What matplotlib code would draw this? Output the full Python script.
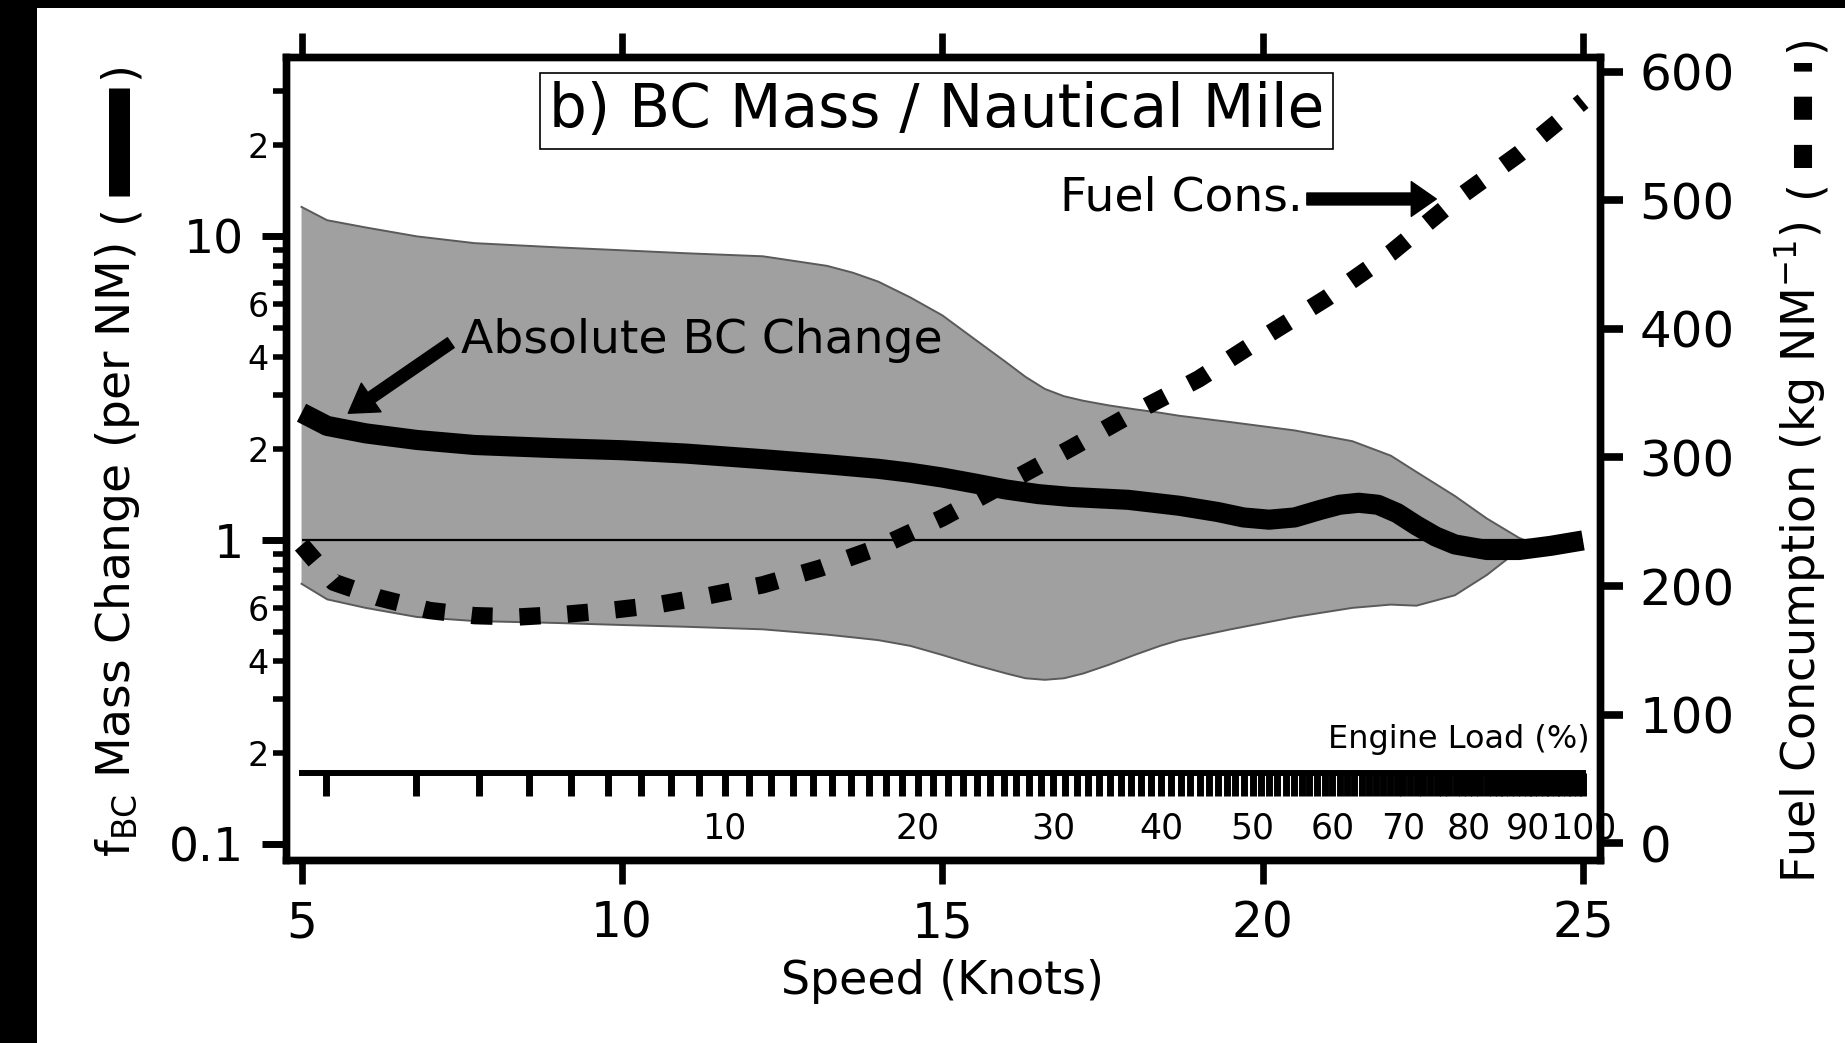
import numpy as np
import matplotlib.pyplot as plt
from matplotlib.lines import Line2D
from matplotlib.patches import Rectangle
from matplotlib.ticker import FixedLocator, FixedFormatter

plt.rcParams['font.family'] = ['DejaVu Sans']
plt.rcParams['mathtext.default'] = 'regular'

# datas
speed_bc = np.array([5.0, 5.4, 6.0, 6.8, 7.7, 9.0, 10.0, 11.0, 12.2, 13.2, 14.0, 14.5,
                     15.0, 15.5, 16.0, 16.5, 17.0, 17.9, 18.7, 19.3, 19.7, 20.1, 20.5,
                     20.9, 21.2, 21.5, 21.8, 22.1, 22.4, 22.7, 23.0, 23.5, 24.0, 24.5, 25.0])
bc_change = np.array([2.63, 2.38, 2.25, 2.14, 2.06, 2.01, 1.98, 1.93, 1.85, 1.78, 1.72, 1.67,
                      1.61, 1.54, 1.47, 1.42, 1.39, 1.36, 1.30, 1.24, 1.19, 1.17, 1.19,
                      1.26, 1.31, 1.33, 1.31, 1.23, 1.12, 1.03, 0.97, 0.93, 0.93, 0.96, 1.0])

speed_band = np.array([5.0, 5.4, 6.0, 6.8, 7.7, 9.0, 10.0, 11.0, 12.2, 13.2, 13.6, 14.0,
                       14.5, 15.0, 15.5, 16.0, 16.3, 16.6, 16.9, 17.2, 17.6, 18.0, 18.4,
                       18.7, 19.5, 20.5, 21.4, 22.0, 22.4, 23.0, 23.5, 24.0, 24.2])
band_high = np.array([12.5, 11.3, 10.7, 10.0, 9.5, 9.2, 9.0, 8.8, 8.6, 8.0, 7.6, 7.1,
                      6.3, 5.5, 4.6, 3.85, 3.45, 3.15, 2.98, 2.88, 2.78, 2.7, 2.63,
                      2.57, 2.45, 2.3, 2.12, 1.9, 1.68, 1.4, 1.18, 1.02, 0.98])
band_low = np.array([0.72, 0.64, 0.60, 0.56, 0.543, 0.535, 0.527, 0.52, 0.51, 0.49, 0.48, 0.47,
                     0.45, 0.42, 0.39, 0.365, 0.352, 0.348, 0.352, 0.365, 0.39, 0.42, 0.45,
                     0.47, 0.51, 0.56, 0.60, 0.615, 0.61, 0.66, 0.77, 0.93, 0.98])

speed_fuel = np.array([5.0, 5.5, 6.2, 7.0, 7.7, 8.4, 9.1, 9.8, 10.5, 11.3, 12.2, 13.1,
                       14.0, 15.0, 16.0, 17.0, 18.0, 19.0, 20.0, 21.0, 22.0, 23.0, 24.0, 25.0])
fuel_cons = np.array([232, 203, 191, 181, 177, 176, 178, 181, 185, 192, 201, 214,
                      230, 253, 280, 307, 335, 361, 393, 424, 459, 500, 536, 577])

x_ticks = [5, 10, 15, 20, 25]
y_major = [0.1, 1, 10]
y_major_labels = ['0.1', '1', '10']
y_minor = [0.2, 0.3, 0.4, 0.5, 0.6, 0.7, 0.8, 0.9, 2, 3, 4, 5, 6, 7, 8, 9, 20, 30]
y_minor_labels = ['2', '', '4', '', '6', '', '', '', '2', '', '4', '', '6', '', '', '', '2', '']
fuel_ticks = [0, 100, 200, 300, 400, 500, 600]
load_major = [10, 20, 30, 40, 50, 60, 70, 80, 90, 100]
load_minor = list(range(1, 101))


def spd2load(s):
    return 100.0 * (np.asarray(s) / 25.0) ** 3


def load2spd(l):
    return 25.0 * np.cbrt(np.asarray(l) / 100.0)


W, H = 1845, 1043


def fx(px):
    return px / W


def fy(py):
    return 1 - py / H


fig = plt.figure(figsize=(W / 100, H / 100), dpi=100)
ax = fig.add_axes([fx(285.5), fy(860), (1600 - 285.5) / W, (860 - 57) / H])

# band + lines
ax.fill_between(speed_band, band_low, band_high, facecolor='#a0a0a0', lw=0, zorder=1)
ax.plot(speed_band, band_high, color='#5a5a5a', lw=1.4, zorder=1.5)
ax.plot(speed_band, band_low, color='#5a5a5a', lw=1.4, zorder=1.5)
ax.hlines(1, 5, 25, color='black', lw=1.6, zorder=2)
ax.plot(speed_bc, bc_change, color='black', lw=14.5, solid_capstyle='butt',
        solid_joinstyle='round', zorder=3)

ax.set_yscale('log')
ax.set_xlim(4.75, 25.265)
ax.set_ylim(0.0889, 38.9)
ax.set_xticks(x_ticks)
ax.set_xticklabels([str(v) for v in x_ticks])
ax.yaxis.set_major_locator(FixedLocator(y_major))
ax.yaxis.set_major_formatter(FixedFormatter(y_major_labels))
ax.yaxis.set_minor_locator(FixedLocator(y_minor))
ax.yaxis.set_minor_formatter(FixedFormatter(y_minor_labels))

ax.tick_params(axis='x', which='major', direction='out', length=17.5, width=4.8,
               top=True, labeltop=False, pad=11, labelsize=35)
ax.tick_params(axis='y', which='major', direction='out', length=17.6, width=5,
               labelsize=34, pad=12)
ax.tick_params(axis='y', which='minor', direction='out', length=9.7, width=4,
               labelsize=24, pad=2.5)

# fuel consumption on right axis
ax2 = ax.twinx()
ax2.plot(speed_fuel, fuel_cons, color='black', lw=12.5, linestyle=(0, (1.21, 1.55)),
         dash_capstyle='butt')
ax2.set_ylim(-13.0, 611.4)
ax2.set_yticks(fuel_ticks)
ax2.tick_params(axis='y', direction='out', length=16.5, width=5.5, labelsize=36, pad=12)
ax.yaxis.tick_left()

for a in (ax, ax2):
    for sp in a.spines.values():
        sp.set_linewidth(5.3)

# engine load scale
sec = ax.secondary_xaxis((860 - 773) / 803, functions=(spd2load, load2spd))
sec.xaxis.set_major_locator(FixedLocator(load_major))
sec.xaxis.set_major_formatter(FixedFormatter([str(v) for v in load_major]))
sec.xaxis.set_minor_locator(FixedLocator(load_minor))
sec.tick_params(which='both', direction='out', length=16.5, width=5, pad=11, labelsize=25)
sec.spines['bottom'].set_linewidth(4.3)
sec.spines['bottom'].set_bounds(spd2load(5), 100)
ax.text(25.11, 0.222, 'Engine Load (%)', fontsize=23, ha='right', va='center')

# title box and annotations
ax.text(0.4952, 0.9328, 'b) BC Mass / Nautical Mile', transform=ax.transAxes,
        ha='center', va='center', fontsize=43,
        bbox=dict(boxstyle='square,pad=0.15', facecolor='white', edgecolor='black', lw=1.2))
ax.text(7.49, 4.53, 'Absolute BC Change', fontsize=34, ha='left', va='center')
ax.annotate('', xy=(5.73, 2.62), xytext=(7.33, 4.47),
            arrowprops=dict(facecolor='black', edgecolor='black', width=8.6,
                            headwidth=25, headlength=20, shrink=0))
ax2.text(20.63, 502, 'Fuel Cons.', fontsize=34, ha='right', va='center')
ax2.annotate('', xy=(22.71, 501), xytext=(20.69, 501),
             arrowprops=dict(facecolor='black', edgecolor='black', width=8.6,
                             headwidth=25, headlength=18, shrink=0))

# axis labels
ax.set_xlabel('Speed (Knots)', fontsize=33, va='center')
ax.xaxis.set_label_coords(0.5, (860 - 982) / 803)
ax.set_ylabel('f$_{BC}$ Mass Change (per NM)', fontsize=34, ha='left', va='center')
ax.yaxis.set_label_coords((118 - 285.5) / 1314.5, (860 - 857) / 803)
ax2.set_ylabel('Fuel Concumption (kg NM$^{-1}$)', fontsize=33.2, rotation=90,
               ha='left', va='center', rotation_mode='anchor')
ax2.yaxis.set_label_coords((1800 - 285.5) / 1314.5, (860 - 883) / 803)

# legend marks inside the axis labels
fig.add_artist(Line2D([fx(118.5)] * 2, [fy(196), fy(88)], transform=fig.transFigure,
                      color='black', lw=15.1, solid_capstyle='butt'))
fig.text(fx(119), fy(213.5), '(', rotation=90, ha='center', va='center', fontsize=33)
fig.text(fx(119), fy(70), ')', rotation=90, ha='center', va='center', fontsize=33)
fig.add_artist(Line2D([fx(1803)] * 2, [fy(168), fy(63)], transform=fig.transFigure,
                      color='black', lw=13, linestyle=(0, (1.28, 1.39)),
                      dash_capstyle='butt'))
fig.text(fx(1805), fy(188.5), '(', rotation=90, ha='center', va='center', fontsize=33)
fig.text(fx(1805), fy(43.5), ')', rotation=90, ha='center', va='center', fontsize=33)

# black scan border
fig.add_artist(Rectangle((0, fy(8)), 1, 8 / H, transform=fig.transFigure,
                         color='black', lw=0))
fig.add_artist(Rectangle((0, 0), 37 / W, 1, transform=fig.transFigure,
                         color='black', lw=0))

fig.savefig('out.png', dpi=100)
